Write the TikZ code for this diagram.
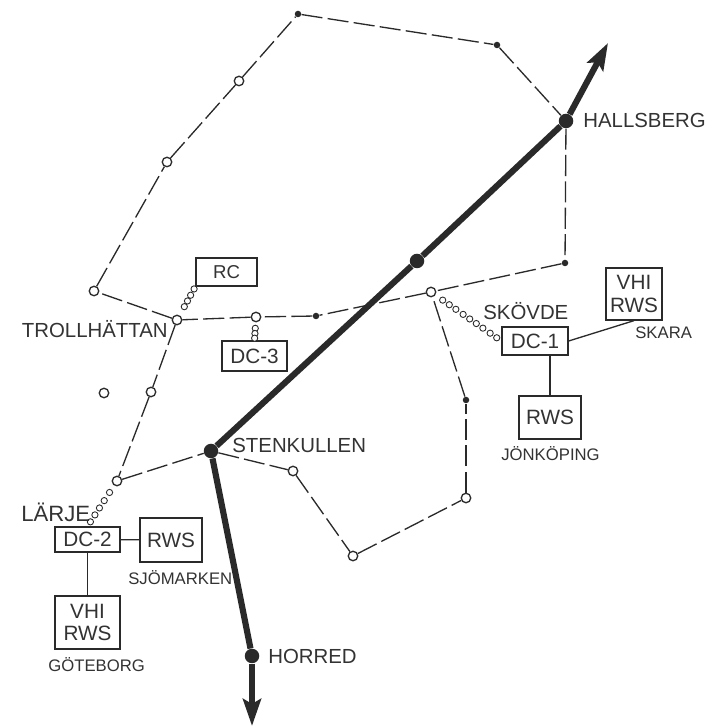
\documentclass[tikz,border=0pt]{standalone}
\usepackage{fontspec}
\usepackage{xcolor}
\usepackage{tikz}
\usetikzlibrary{arrows.meta,positioning}
\setmainfont{Liberation Sans}
\definecolor{mapInk}{HTML}{2A2A2A}
\definecolor{mapText}{HTML}{333333}
\tikzset{
  main line/.style={line width=3.5pt, draw=mapInk},
  main arrow/.style={main line, -{Stealth[length=5.4mm,width=3.6mm,inset=1mm]}},
  route/.style={draw=mapInk, line width=0.75pt, dash pattern=on 12pt off 3pt},
  tie/.style={draw=mapInk, line width=0.75pt},
  big station/.style={circle, fill=mapInk, minimum size=2.9mm, inner sep=0pt},
  open station/.style={circle, draw=mapInk, line width=0.75pt, fill=white, minimum size=1.9mm, inner sep=0pt},
  dot station/.style={circle, fill=mapInk, minimum size=1.3mm, inner sep=0pt},
  link ring/.style={circle, draw=mapInk, line width=0.5pt, fill=white, minimum size=1.25mm, inner sep=0pt},
  unit box/.style={draw=mapInk, line width=0.75pt, fill=white, align=center, inner sep=0pt,
    font=\fontsize{11.8}{12.6}\selectfont, text=mapText},
  place label/.style={font=\fontsize{11.6}{13}\selectfont, text=mapText, inner sep=0pt},
  site label/.style={font=\fontsize{9.5}{11}\selectfont, text=mapText, inner sep=0pt}
}
\begin{document}
\begin{tikzpicture}
  \useasboundingbox[fill=white] (0,0) rectangle (14.5,14.52);

  % stations
  \node[big station] (hal) at (11.32,12.10) {};
  \node[big station] (mid) at (8.34,9.30) {};
  \node[big station] (ste) at (4.22,5.50) {};
  \node[big station] (hor) at (5.04,1.40) {};
  \node[open station] (trh) at (3.54,8.12) {};
  \node[open station] (nwa) at (1.88,8.70) {};
  \node[open station] (nwb) at (3.34,11.28) {};
  \node[open station] (nwc) at (4.78,12.90) {};
  \node[dot station] (nwd) at (5.96,14.24) {};
  \node[dot station] (nwe) at (9.94,13.62) {};
  \node[dot station] (eaa) at (11.30,9.26) {};
  \node[open station] (skv) at (8.62,8.68) {};
  \node[dot station] (cea) at (6.32,8.20) {};
  \node[open station] (ceb) at (5.12,8.18) {};
  \node[open station] (wea) at (3.02,6.68) {};
  \node[open station] (lar) at (2.34,4.90) {};
  \node[open station] (soa) at (5.86,5.10) {};
  \node[open station] (sob) at (7.06,3.40) {};
  \node[open station] (soc) at (9.32,4.56) {};
  \node[dot station] (sod) at (9.32,6.52) {};
  \node[open station] (iso) at (2.08,6.66) {};
  \coordinate (top) at (12.16,13.66);
  \coordinate (bot) at (5.04,0.0);

  % boxes
  \node[unit box, minimum width=12.2mm, minimum height=5.6mm, font=\fontsize{10.6}{12}\selectfont] (rc) at (4.53,9.08) {RC};
  \node[unit box, minimum width=13mm, minimum height=6mm] (dcc) at (5.09,7.40) {DC-3};
  \node[unit box, minimum width=13.2mm, minimum height=5.6mm] (dca) at (10.70,7.70) {DC-1};
  \node[unit box, minimum width=11.2mm, minimum height=10.4mm] (vhs) at (12.68,8.64) {VHI\\RWS};
  \node[unit box, minimum width=12.4mm, minimum height=8.6mm] (rwj) at (11.00,6.17) {RWS};
  \node[unit box, minimum width=13mm, minimum height=5mm] (dcb) at (1.75,3.73) {DC-2};
  \node[unit box, minimum width=12.4mm, minimum height=8.8mm] (rws) at (3.42,3.72) {RWS};
  \node[unit box, minimum width=13mm, minimum height=10.6mm] (vhg) at (1.75,2.07) {VHI\\RWS};

  % routes
  \draw[route] (trh) -- (nwa); \draw[route] (nwa) -- (nwb);
  \draw[route] (nwb) -- (nwc); \draw[route] (nwc) -- (nwd);
  \draw[route] (nwd) -- (nwe); \draw[route] (nwe) -- (hal);
  \draw[route] (hal) -- (eaa); \draw[route] (eaa) -- (skv);
  \draw[route] (skv) -- (cea); \draw[route] (cea) -- (ceb);
  \draw[route] (ceb) -- (trh); \draw[route] (trh) -- (wea);
  \draw[route] (wea) -- (lar); \draw[route] (lar) -- (ste);
  \draw[route] (ste) -- (soa); \draw[route] (soa) -- (sob);
  \draw[route] (sob) -- (soc); \draw[route] (soc) -- (sod);
  \draw[route] (sod) -- (skv);

  % main line
  \draw[main line] (ste) -- (mid);
  \draw[main line] (mid) -- (hal);
  \draw[main line] (ste) -- (hor);
  \draw[main arrow] (hal) -- (top);
  \draw[main arrow] (hor) -- (bot);

  % ring links
  \foreach \p in {.30,.50,.70,.92}
    \path (trh) -- (rc.south west) node[link ring, pos=\p] {};
  \foreach \p in {.33,.62,.88}
    \path (ceb) -- (dcc.north) node[link ring, pos=\p] {};
  \foreach \p in {.17,.37,.55,.72,.89}
    \path (lar) -- (dcb.north) node[link ring, pos=\p] {};
  \foreach \p in {.11,.21,.31,.42,.52,.62,.72,.83,.93}
    \path (skv) -- (dca.west) node[link ring, pos=\p] {};

  % ties
  \draw[tie] (dca.east) -- (vhs.south);
  \draw[tie] (rwj.north) -- (rwj.north |- dca.south);
  \draw[tie] (dcb) -- (rws);
  \draw[tie] (dcb) -- (vhg);

  % labels
  \node[place label, anchor=west] (lhal) at (11.66,12.12) {HALLSBERG};
  \node[place label, anchor=east] (ltrh) at (3.36,7.94) {TROLLHÄTTAN};
  \node[place label, anchor=west] (lste) at (4.64,5.62) {STENKULLEN};
  \node[place label, anchor=west] (lskv) at (9.66,8.30) {SKÖVDE};
  \node[place label, anchor=west, font=\fontsize{12.6}{14}\selectfont] (llar) at (0.42,4.28) {LÄRJE};
  \node[place label, anchor=west] (lhor) at (5.36,1.40) {HORRED};
  \node[site label, anchor=west] (lska) at (12.70,7.86) {SKARA};
  \node[site label, anchor=west] (ljon) at (10.02,5.44) {JÖNKÖPING};
  \node[site label, anchor=west] (lsjo) at (2.56,2.96) {SJÖMARKEN};
  \node[site label, anchor=west] (lgot) at (0.96,1.22) {GÖTEBORG};
\end{tikzpicture}
\end{document}
